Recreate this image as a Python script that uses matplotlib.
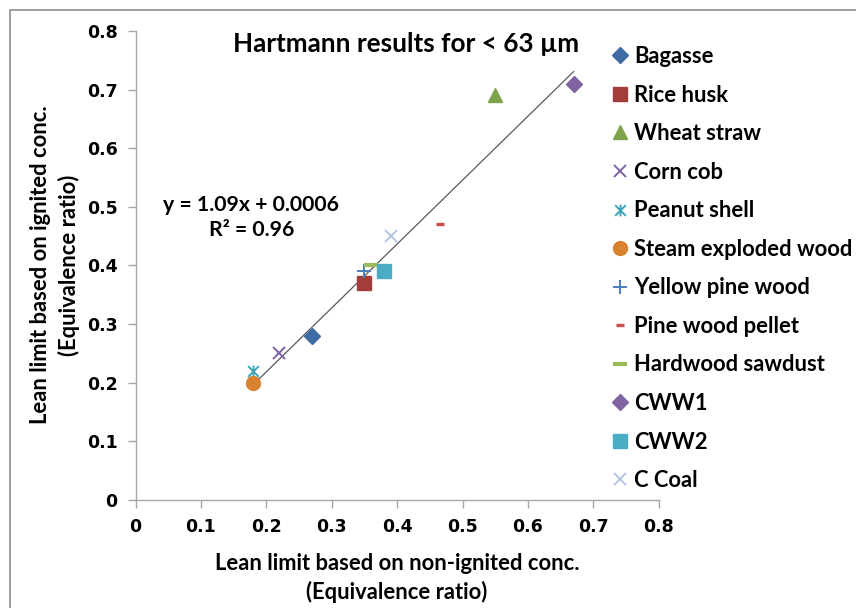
import matplotlib
matplotlib.use("Agg")
import matplotlib.pyplot as plt
from matplotlib.path import Path
from matplotlib.patches import Rectangle
import numpy as np

# ---- data ----
series_names = ["Bagasse", "Rice husk", "Wheat straw", "Corn cob", "Peanut shell",
                "Steam exploded wood", "Yellow pine wood", "Pine wood pellet",
                "Hardwood sawdust", "CWW1", "CWW2", "C Coal"]
x_nonignited = [0.27, 0.35, 0.55, 0.22, 0.18, 0.18, 0.35, 0.465, 0.36, 0.67, 0.38, 0.39]
y_ignited    = [0.28, 0.37, 0.69, 0.25, 0.22, 0.20, 0.39, 0.47, 0.40, 0.71, 0.39, 0.45]
trend_slope = 1.09
trend_intercept = 0.0006
r_squared = 0.96
ticks = [0, 0.1, 0.2, 0.3, 0.4, 0.5, 0.6, 0.7, 0.8]
tick_labels = ["0", "0.1", "0.2", "0.3", "0.4", "0.5", "0.6", "0.7", "0.8"]
x_title = ["Lean limit based on non-ignited conc.", "(Equivalence ratio)"]
y_title = ["Lean limit based on ignited conc.", "(Equivalence ratio)"]
chart_title = "Hartmann results for < 63 µm"

# ---- styles ----
star = Path([(-1, -1), (1, 1), (-1, 1), (1, -1), (0, -1.1), (0, 1.1)],
            [Path.MOVETO, Path.LINETO, Path.MOVETO, Path.LINETO, Path.MOVETO, Path.LINETO])
styles = [
    dict(marker="D", color="#3E6BA3", ms=8.0),
    dict(marker="s", color="#A33D3A", ms=9.5),
    dict(marker="^", color="#7FA34A", ms=9.5),
    dict(marker="x", color="#7E62A1", ms=8.5, mew=1.4),
    dict(marker=star, color="#3FA5BA", ms=8.5, mew=1.4),
    dict(marker="o", color="#D8812F", ms=10),
    dict(marker="+", color="#4A7EBD", ms=9.5, mew=1.4),
    dict(marker="_", color="#C9504D", ms=5.8, mew=2.4),
    dict(marker="_", color="#9BBB59", ms=9.4, mew=3.0),
    dict(marker="D", color="#8064A2", ms=8.0),
    dict(marker="s", color="#4BACC6", ms=9.5),
    dict(marker="x", color="#B3C6E3", ms=8.5, mew=1.4),
]

W, H = 856, 608
fig = plt.figure(figsize=(W / 100, H / 100), dpi=100)
ax = fig.add_axes([135.5 / W, 1 - 500 / H, (658.7 - 135.5) / W, (500 - 31) / H])

for name, xv, yv, st in zip(series_names, x_nonignited, y_ignited, styles):
    st = dict(st)
    col = st.pop("color")
    ax.plot([xv], [yv], linestyle="none", color=col, markerfacecolor=col,
            markeredgecolor=col, label=name, **st)

xs = np.array([min(x_nonignited), max(x_nonignited)])
ax.plot(xs, trend_slope * xs + trend_intercept, color="#595959", lw=0.9, zorder=1)

ax.set_xlim(0, 0.8)
ax.set_ylim(0, 0.8)
ax.set_xticks(ticks)
ax.set_xticklabels(tick_labels)
ax.set_yticks(ticks)
ax.set_yticklabels(tick_labels)
for s in ["top", "right"]:
    ax.spines[s].set_visible(False)
for s in ["left", "bottom"]:
    ax.spines[s].set_color("#A6A6A6")
    ax.spines[s].set_linewidth(1.0)
ax.tick_params(axis="both", direction="out", length=6, width=1.0, color="#A6A6A6",
               labelsize=12.5, pad=7)
for lab in ax.get_xticklabels() + ax.get_yticklabels():
    lab.set_fontfamily("DejaVu Sans")
    lab.set_fontweight("bold")

lab_font = dict(family="Lato", weight="bold", size=15.8)
fig.text(397 / W, 1 - 564 / H, x_title[0], ha="center", va="center", **lab_font)
fig.text(397 / W, 1 - 592 / H, x_title[1], ha="center", va="center", **lab_font)
fig.text(41 / W, 1 - 265 / H, y_title[0], ha="center", va="center", rotation=90, **lab_font)
fig.text(69 / W, 1 - 265 / H, y_title[1], ha="center", va="center", rotation=90, **lab_font)

fig.text(406 / W, 1 - 44 / H, chart_title, ha="center", va="center",
         family="Lato", weight="bold", size=18.8)

eq_font = dict(family="Lato", weight="bold", size=15.3)
fig.text(251 / W, 1 - 205 / H, "y = %.2fx + %.4f" % (trend_slope, trend_intercept),
         ha="center", va="center", **eq_font)
fig.text(252 / W, 1 - 230 / H, "R² = %.2f" % r_squared,
         ha="center", va="center", **eq_font)

leg = ax.legend(loc="upper left", bbox_to_anchor=(609 / W, 1 - 46 / H),
                bbox_transform=fig.transFigure, frameon=False, handlelength=1.0,
                handletextpad=0.13, labelspacing=0.80, borderaxespad=0, borderpad=0,
                prop=dict(family="Lato", weight="bold", size=15.8), numpoints=1)

fig.add_artist(Rectangle((10 / W, -0.05), 1.2, 1 - 10 / H + 0.05, transform=fig.transFigure,
                         fill=False, edgecolor="#8C8C8C", lw=1.2))

fig.savefig("out.png", dpi=100)
